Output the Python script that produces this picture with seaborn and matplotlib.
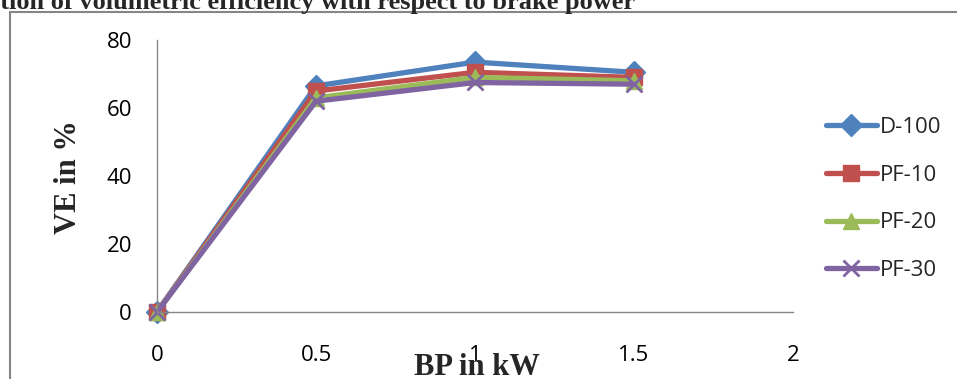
import matplotlib
matplotlib.use("Agg")
import matplotlib.pyplot as plt
import seaborn as sns
from matplotlib.lines import Line2D

# data
bp = [0, 0.5, 1, 1.5]
series_names = ['D-100', 'PF-10', 'PF-20', 'PF-30']
d100 = [0, 66.5, 73.5, 70.5]
pf10 = [0, 65, 70.5, 69]
pf20 = [0, 63, 69, 68]
pf30 = [0, 62, 67.5, 67]
x_ticks = [0, 0.5, 1, 1.5, 2]
y_ticks = [0, 20, 40, 60, 80]

colors = ['#4F81BD', '#C0504D', '#9BBB59', '#8064A2']
markers = ['D', 's', '^', 'x']
msizes = [11, 11, 12, 12]

sns.set_style("white")
plt.rcParams['font.family'] = ['Open Sans', 'DejaVu Sans']

W, H = 957, 379
fig = plt.figure(figsize=(W / 100, H / 100), dpi=100)
ax = fig.add_axes([157 / W, 1 - 312 / H, (793 - 157) / W, (312 - 40) / H])

for name, vals, c, m, ms in zip(series_names, [d100, pf10, pf20, pf30], colors, markers, msizes):
    sns.lineplot(x=bp, y=vals, ax=ax, color=c, marker=m, markersize=ms,
                 markeredgecolor=c, markerfacecolor=c, markeredgewidth=2 if m == 'x' else 1,
                 linewidth=3.8, label=name, clip_on=False)

ax.set_xlim(0, 2)
ax.set_ylim(0, 80)
ax.set_xticks(x_ticks)
ax.set_xticklabels([str(t) for t in x_ticks])
ax.set_yticks(y_ticks)
ax.tick_params(axis='both', length=0, labelsize=16, colors='black')
ax.tick_params(axis='y', pad=18)
ax.tick_params(axis='x', pad=24)
for s in ['top', 'right']:
    ax.spines[s].set_visible(False)
for s in ['left', 'bottom']:
    ax.spines[s].set_color('#868686')
    ax.spines[s].set_linewidth(1)
ax.set_xlabel('')
ax.set_ylabel('')

handles, labels = ax.get_legend_handles_labels()
ax.get_legend().remove()
fig.legend(handles, labels, loc='center left', bbox_to_anchor=(817 / W, 1 - 199 / H),
           frameon=False, fontsize=16, handlelength=2.3, handletextpad=0.15,
           labelspacing=1.2, borderaxespad=0)

serif = ['Liberation Serif', 'DejaVu Serif']
fig.text(477 / W, 1 - 375 / H, 'BP in kW', ha='center', va='baseline',
         fontsize=22, fontweight='bold', family=serif)
fig.text(68 / W, 1 - 177 / H, 'VE in %', ha='center', va='center', rotation=90,
         fontsize=22, fontweight='bold', family=serif)
fig.text(635 / W, 1 - 9 / H, 'Variation of volumetric efficiency with respect to brake power',
         ha='right', va='baseline', fontsize=19, fontweight='bold', family=serif)

# outer chart frame
fig.add_artist(Line2D([10 / W, 1], [1 - 12 / H, 1 - 12 / H], transform=fig.transFigure,
                      color='#868686', linewidth=1.5))
fig.add_artist(Line2D([10 / W, 10 / W], [0, 1 - 12 / H], transform=fig.transFigure,
                      color='#868686', linewidth=1.5))

fig.savefig('out.png', dpi=100)
plt.close(fig)
